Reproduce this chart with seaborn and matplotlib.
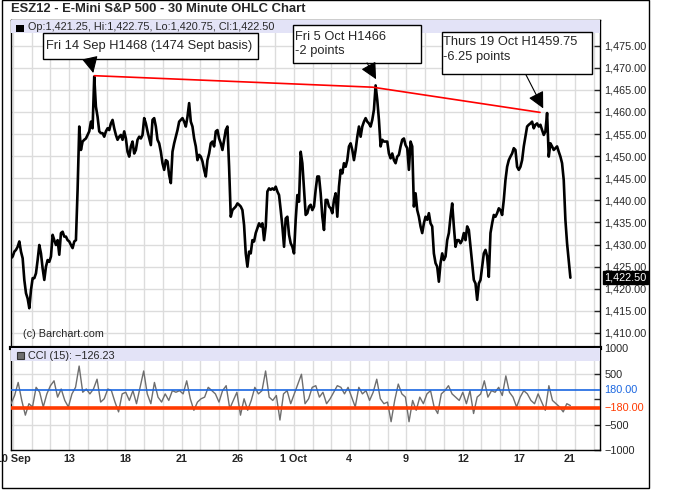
import numpy as np
import matplotlib
matplotlib.use("Agg")
import matplotlib.pyplot as plt
import matplotlib.transforms as mtransforms
from matplotlib.patches import Rectangle
import seaborn as sns

# ESZ12 price, every 2 hours (about 4 x 30-minute bars)
es_price = [
    1426.9, 1427.3, 1428.4, 1428.8, 1429.5, 1430.7, 1428.4, 1426.9, 1422.0, 1419.0,
    1417.8, 1415.6, 1419.7, 1422.4, 1422.4, 1423.5, 1426.5, 1429.9, 1428.0, 1424.6,
    1422.0, 1425.0, 1426.5, 1426.1, 1427.3, 1432.2, 1431.0, 1429.9, 1431.0, 1427.7,
    1432.6, 1432.9, 1431.8, 1431.8, 1431.0, 1430.7, 1429.9, 1429.2, 1430.7, 1431.0,
    1442.4, 1456.7, 1451.4, 1453.3, 1453.7, 1454.0, 1454.8, 1455.6, 1457.8, 1456.3,
    1468.0, 1461.2, 1458.9, 1455.6, 1455.2, 1455.2, 1454.4, 1455.6, 1456.3, 1455.9,
    1457.4, 1458.2, 1456.3, 1454.8, 1453.7, 1454.4, 1454.8, 1453.7, 1455.6, 1454.0,
    1451.0, 1449.9, 1452.2, 1453.3, 1450.6,
    1451.4, 1453.7, 1454.4, 1454.0, 1454.8, 1458.6, 1457.4, 1455.6, 1454.0, 1452.5,
    1458.2, 1458.6, 1456.7, 1453.7, 1452.9, 1451.0, 1448.4, 1446.9, 1449.1, 1448.8,
    1445.7, 1443.9, 1451.0, 1452.9, 1454.4, 1455.9, 1457.8, 1458.2, 1458.6, 1457.8,
    1456.7, 1458.9, 1462.0, 1457.8, 1456.7, 1454.0, 1452.2, 1449.1, 1450.3, 1449.9,
    1448.8, 1446.9, 1445.4, 1449.1, 1450.6, 1452.9, 1453.3, 1452.2, 1455.6, 1455.9,
    1454.0, 1452.9, 1451.4, 1453.7, 1455.9, 1456.7, 1447.6, 1436.3, 1437.8, 1438.2,
    1438.6, 1439.3, 1439.0, 1438.6, 1437.8, 1434.4, 1428.0, 1425.0, 1428.4, 1428.0,
    1431.0, 1430.7, 1432.6, 1433.7, 1434.8,
    1434.1, 1434.8, 1431.0, 1434.1, 1442.0, 1442.7, 1442.4, 1442.7, 1442.4, 1443.1,
    1442.0, 1441.2, 1437.8, 1434.1, 1429.5, 1435.9, 1436.3, 1432.2, 1430.3, 1429.5,
    1428.0, 1435.6, 1441.2, 1439.7, 1451.0, 1448.4, 1442.4, 1436.7, 1437.1, 1438.6,
    1439.0, 1437.8, 1438.6, 1442.4, 1445.4, 1445.4, 1441.6, 1436.3, 1433.3, 1440.1,
    1440.1, 1438.6, 1438.2, 1437.1, 1440.1, 1441.6, 1436.3, 1443.1, 1446.9, 1446.1,
    1448.4, 1447.6, 1449.1, 1452.2, 1452.9, 1451.4, 1449.1, 1451.4, 1454.4, 1456.7,
    1454.4, 1456.7, 1457.8, 1458.6, 1457.8, 1457.4, 1456.7, 1458.2, 1460.5, 1466.0,
    1462.7, 1458.2, 1452.2, 1453.7, 1453.3,
    1453.3, 1453.3, 1450.6, 1449.5, 1450.6, 1449.1, 1448.4, 1449.9, 1450.3, 1452.2,
    1453.7, 1454.0, 1452.5, 1451.8, 1446.9, 1453.3, 1452.2, 1438.6, 1441.6, 1437.8,
    1436.3, 1434.1, 1432.6, 1434.8, 1436.3, 1435.6, 1437.1, 1434.8, 1434.1, 1428.0,
    1425.8, 1425.0, 1421.6, 1425.8, 1428.0, 1426.5, 1427.3, 1431.0, 1432.6, 1436.3,
    1439.3, 1434.1, 1429.5, 1431.0, 1431.0, 1430.3, 1431.0, 1432.6, 1431.0, 1434.1,
    1433.3, 1429.5, 1425.8, 1422.0, 1421.2, 1417.5, 1421.2,
    1422.0, 1425.0, 1428.0, 1428.8, 1427.3, 1422.7, 1432.6, 1434.8, 1436.7, 1436.3,
    1437.1, 1438.2, 1437.8, 1436.7, 1440.1, 1444.6, 1447.6, 1449.1, 1449.9, 1450.6,
    1451.8, 1451.4, 1447.6, 1446.9, 1447.6, 1449.1, 1452.2, 1454.4, 1456.7, 1457.1,
    1457.4, 1457.8, 1456.3, 1457.1, 1457.4, 1456.7, 1457.1, 1455.9, 1454.8, 1455.6,
    1459.75, 1449.9, 1452.9, 1452.2, 1451.4, 1451.8, 1452.2, 1451.0, 1449.9, 1448.4,
    1444.6, 1435.6, 1430.3, 1426.5, 1422.5,
]

# CCI (15)
cci_15 = [
    -90, 71, 328, -26, -315, -90, -154, 232, 135, -154,
    103, 264, 360, 39, 199, -26, -154, 103, 232, 650,
    135, 199, 103, 199, 392, -58, 7, 199, 167, -58,
    -251, 103, 135, -26, 167, -90, 232, 553, 103, -90,
    328, 39, -58, 103, -26, 167, 135, 167, 103, 360,
    7, -219, -58, 7, 39, 232, 167, 103, -58, 167,
    264, -186, -26, 135, -315, 7, -219, -26, 232, 103,
    167, 553, 39, -26, 71, -411, 103, 167, -90, 103,
    296, 489, -90, 7, 232, 264, 39, 135, -90, 7,
    135, 264, 232, 103, 232, 39, -154, 232, 103, 167,
    -26, 135, 392, 7, -90, -58, -444, -26, 296, 103,
    39, -444, -26, -219, 39, -90, 103, 167, -154, -283,
    103, 167, 264, 103, 39, -26, 135, -90, 167, -283,
    39, 103, 360, 39, 167, 135, 232, 71, 457, 135,
    39, -154, 39, 167, 103, -26, -90, 103, -58, -219,
    264, -26, -90, -154, -251, -90, -126.23,
]

# red line joining the three highs (trading days from 10 Sep)
trend_days = [4.45, 19.3, 28.23]
trend_prices = [1468.2, 1465.6, 1459.9]

date_labels = ["10 Sep", "13", "18", "21", "26", "1 Oct", "4", "9", "12", "17", "21"]
date_days = [0.11, 3.11, 6.1, 9.11, 12.1, 15.06, 18.05, 21.06, 24.14, 27.11, 29.79]
price_levels = list(range(1410, 1480, 5))

last_price = 1422.50
cci_upper, cci_lower = 180, -180

sns.set_style("white")
plt.rcParams["font.family"] = ["Liberation Sans", "DejaVu Sans"]

W, H = 693, 490
fig = plt.figure(figsize=(W / 100, H / 100), dpi=100)
ax = fig.add_axes([11 / W, 142 / H, 589 / W, 328 / H])
ax2 = fig.add_axes([11 / W, 40 / H, 589 / W, 102 / H])

end_day = 29.85
price_days = np.linspace(0, end_day, len(es_price))
cci_days = np.linspace(0, end_day, len(cci_15))
grid_days = np.arange(32) + 0.1
grid_col = "#dcdcdc"

for a in (ax, ax2):
    a.set_xlim(0, 31.43)
    for d in grid_days:
        a.axvline(d, color=grid_col, lw=1, zorder=0)
    for s in a.spines.values():
        s.set_color("black")
        s.set_linewidth(1)

# ---- price panel
for p in price_levels:
    ax.axhline(p, color=grid_col, lw=1, zorder=0)
sns.lineplot(x=price_days, y=es_price, ax=ax, color="black", linewidth=1.9, zorder=3)
ax.plot(trend_days, trend_prices, color="red", lw=1.2, zorder=4)
ax.set_ylim(1406.6, 1480.8)
ax.set_yticks(price_levels)
ax.set_yticklabels([f"{p:,.2f}" for p in price_levels])
ax.yaxis.tick_right()
ax.tick_params(axis="y", direction="in", length=4, width=1, pad=3, labelsize=7.8)
ax.tick_params(axis="x", length=0, labelbottom=False)
ax.set_xlabel("")
ax.set_ylabel("")
ax.spines["bottom"].set_linewidth(3)

ax.add_patch(Rectangle((0, 0.9604), 1, 0.0396, transform=ax.transAxes,
                       color="#e3e3f7", zorder=5, lw=0))
ax.add_patch(Rectangle((0.0085, 0.9634), 0.0136, 0.0213, transform=ax.transAxes,
                       color="black", zorder=6, lw=0))
ax.text(0.0289, 0.9787, "Op:1,421.25, Hi:1,422.75, Lo:1,420.75, Cl:1,422.50",
        transform=ax.transAxes, fontsize=7.8, va="center", ha="left", zorder=6)
ax.text(0.0204, 0.0418, "(c) Barchart.com", transform=ax.transAxes,
        fontsize=7.8, va="center", ha="left", zorder=6)

yblend = mtransforms.blended_transform_factory(ax.transAxes, ax.transData)
ax.text(1.0068, last_price, f"{last_price:,.2f}", transform=yblend, color="white",
        fontsize=7.8, va="center", ha="left", zorder=10, clip_on=False,
        bbox=dict(boxstyle="square,pad=0.12", fc="black", ec="black"))

# annotation boxes
boxes = [
    ((0.0543, 0.8811, 0.365, 0.0793), (0.0594, 0.9207), "Fri 14 Sep H1468 (1474 Sept basis)"),
    ((0.4783, 0.8680, 0.2173, 0.1168), (0.4822, 0.9268), "Fri 5 Oct H1466\n-2 points"),
    ((0.7312, 0.8354, 0.2547, 0.1290), (0.7334, 0.9101), "Thurs 19 Oct H1459.75\n-6.25 points"),
]
for (bx, by, bw, bh), (tx, ty), label in boxes:
    ax.add_patch(Rectangle((bx, by), bw, bh, transform=ax.transAxes, fc="white",
                           ec="black", lw=1, zorder=7))
    ax.text(tx, ty, label, transform=ax.transAxes, fontsize=9.3, va="center",
            ha="left", linespacing=1.24, zorder=8)

arrows = [((4.39, 1468.8), (4.22, 1472.0)),
          ((19.48, 1467.4), (19.0, 1471.1)),
          ((28.40, 1460.8), (27.48, 1468.4))]
for tip, tail in arrows:
    ax.annotate("", xy=tip, xytext=tail, zorder=8,
                arrowprops=dict(arrowstyle="-|>,head_length=1.0,head_width=0.5",
                                color="black", lw=0.8, shrinkA=0, shrinkB=0,
                                mutation_scale=10))

# ---- CCI panel
for lvl in (500, -500):
    ax2.axhline(lvl, color=grid_col, lw=1, zorder=0)
sns.lineplot(x=cci_days, y=cci_15, ax=ax2, color="#6e6e6e", linewidth=1, zorder=3)
ax2.axhline(cci_upper, color="#1a66e0", lw=1.2, zorder=4)
ax2.axhline(cci_lower, color="#ff3a00", lw=2.6, zorder=4)
ax2.set_ylim(-1000, 1005)
ax2.set_yticks([1000, 500, 0, -500, -1000])
ax2.set_yticklabels(["1000", "500", "", "\u2212500", "\u22121000"])
ax2.yaxis.tick_right()
ax2.tick_params(axis="y", direction="in", length=4, width=1, pad=3, labelsize=7.8)
ax2.set_xticks(date_days)
ax2.set_xticklabels(date_labels, fontweight="bold")
ax2.tick_params(axis="x", length=0, pad=3, labelsize=7.8)
ax2.set_xlabel("")
ax2.set_ylabel("")
ax2.spines["top"].set_visible(False)

cblend = mtransforms.blended_transform_factory(ax2.transAxes, ax2.transData)
ax2.text(1.0068, cci_upper, "180.00", transform=cblend, color="#1a66e0",
         fontsize=7.8, va="center", ha="left", clip_on=False)
ax2.text(1.0068, cci_lower, "\u2212180.00", transform=cblend, color="#ff3a00",
         fontsize=7.8, va="center", ha="left", clip_on=False)

ax2.add_patch(Rectangle((0, 0.8725), 1, 0.1275, transform=ax2.transAxes,
                        color="#e3e3f7", zorder=5, lw=0))
ax2.add_patch(Rectangle((0.0096, 0.892), 0.0124, 0.066, transform=ax2.transAxes,
                        fc="#6e6e6e", ec="#333333", lw=0.8, zorder=6))
ax2.text(0.0289, 0.9245, "CCI (15): \u2212126.23", transform=ax2.transAxes,
         fontsize=7.8, va="center", ha="left", zorder=6)

# title and outer frame
fig.text(11 / W, 1 - 9 / H, "ESZ12 - E-Mini S&P 500 - 30 Minute OHLC Chart",
         fontsize=9.4, fontweight="bold", va="center", ha="left")
fig.patches.append(Rectangle((2 / W, 2 / H), 647 / W, 487.5 / H, transform=fig.transFigure,
                             fill=False, ec="black", lw=1))

fig.savefig("out.png", dpi=100)
